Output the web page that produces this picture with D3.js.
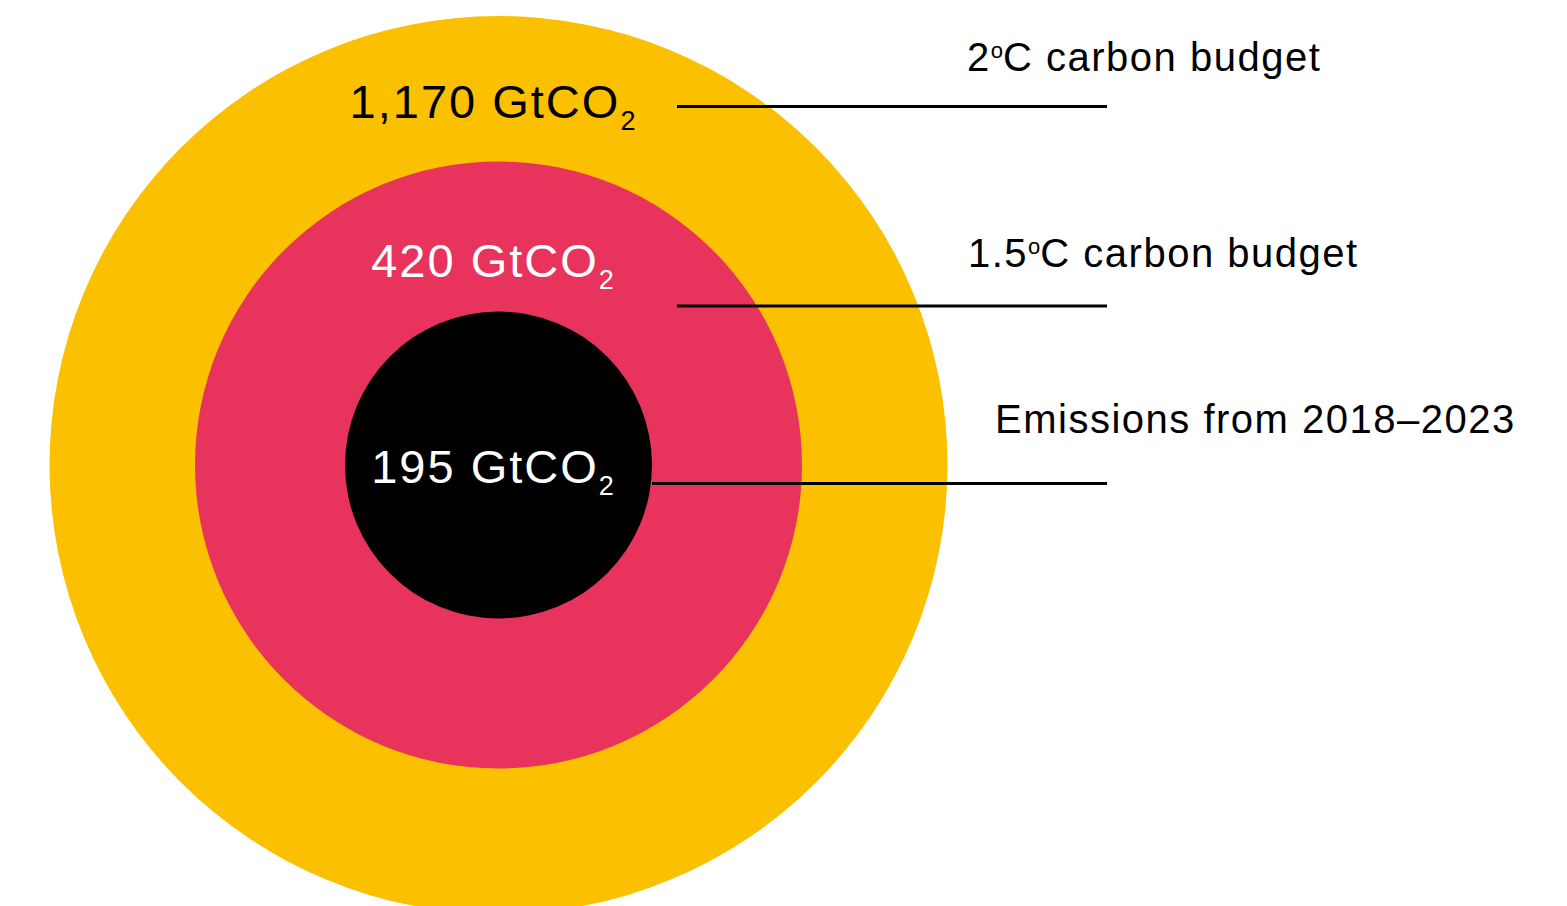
<!DOCTYPE html>
<html>
<head>
<meta charset="utf-8">
<script src="https://cdn.jsdelivr.net/npm/d3@7"></script>
<style>
  html, body { margin: 0; padding: 0; background: #fff; }
  svg { display: block; font-family: "Liberation Sans", Arial, Helvetica, sans-serif; }
</style>
</head>
<body>
<svg id="chart" width="1567" height="906"></svg>
<script>
// Data
const categories = ["2°C carbon budget", "1.5°C carbon budget", "Emissions from 2018–2023"];
const values = [1170, 420, 195];
const valueLabels = ["1,170 GtCO", "420 GtCO", "195 GtCO"];
const labelPrefix = ["2", "1.5", null];
const colors = ["#FBC000", "#E8345C", "#000000"];
const textColors = ["#000000", "#ffffff", "#ffffff"];

const svg = d3.select("#chart");
const cx = 498.5, cy = 465;

// radius scale (piecewise as in the original graphic)
const r = d3.scaleLinear().domain([195, 420, 1170]).range([153.5, 303.5, 449]);

const idx = d3.range(values.length);

svg.selectAll("circle.ring").data(idx).join("circle")
  .attr("class", "ring")
  .attr("cx", cx).attr("cy", cy)
  .attr("r", i => r(values[i]))
  .attr("fill", i => colors[i]);

// value labels
const vl = svg.selectAll("text.val").data(idx).join("text")
  .attr("class", "val")
  .attr("x", 492.5)
  .attr("y", i => [118, 277, 483][i])
  .attr("text-anchor", "middle")
  .attr("fill", i => textColors[i])
  .style("font-size", "47px")
  .style("letter-spacing", "2px");
vl.append("tspan").text(i => valueLabels[i]);
vl.append("tspan").attr("dy", 12).style("font-size", "27px").style("letter-spacing", "0px").text("2");

// leader lines
const lineY = [106.5, 306, 483.5];
const lineX0 = [677, 677, cx + r(values[2])];
svg.selectAll("line.lead").data(idx).join("line")
  .attr("class", "lead")
  .attr("x1", i => lineX0[i]).attr("x2", 1107)
  .attr("y1", i => lineY[i]).attr("y2", i => lineY[i])
  .attr("stroke", "#000").attr("stroke-width", 3);

// category labels
const catX = [967, 968, 995];
const catY = [71, 267, 433];
const ct = svg.selectAll("text.cat").data(idx).join("text")
  .attr("class", "cat")
  .attr("x", i => catX[i]).attr("y", i => catY[i])
  .attr("fill", "#000")
  .style("font-size", "40px")
  .style("letter-spacing", "1.5px");
ct.each(function(d, i) {
  const t = d3.select(this);
  if (labelPrefix[i] !== null) {
    t.append("tspan").text(labelPrefix[i]);
    t.append("tspan").attr("dy", -13).style("font-size", "22px").style("letter-spacing", "0px").text("o");
    t.append("tspan").attr("dy", 13).text(categories[i].slice(labelPrefix[i].length + 1));
  } else {
    t.text(categories[i]);
  }
});
</script>
</body>
</html>
